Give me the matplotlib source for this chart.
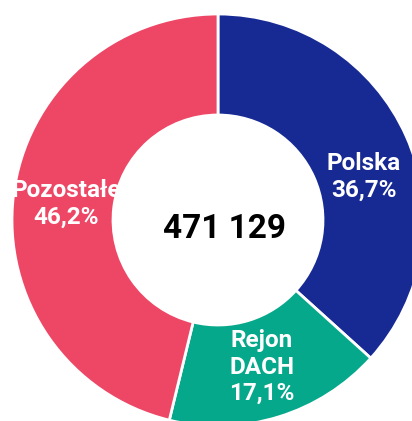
import matplotlib.pyplot as plt

labels = ["Polska", "Rejon\nDACH", "Pozostałe"]
shares = [36.7, 17.1, 46.2]
total = "471 129"
colors = ["#172A94", "#06A88C", "#EE4766"]

W, H = 412, 421
fig = plt.figure(figsize=(W / 100, H / 100), dpi=100)
ax = fig.add_axes([0, 0, 1, 1])

cx, cy = 218, H - 220
R = 206
ax.pie(shares, colors=colors, startangle=90, counterclock=False,
       center=(cx, cy), radius=R, frame=True,
       wedgeprops=dict(width=R - 105, edgecolor="white", linewidth=2))
ax.set_xlim(0, W)
ax.set_ylim(0, H)
ax.set_aspect("equal")
ax.axis("off")

font = ["Roboto", "DejaVu Sans"]
# label anchor points in pixel space (x, y from top)
label_pos = [(364, 177), (262, 367), (66, 204)]
for lab, val, (x, y) in zip(labels, shares, label_pos):
    txt = f"{lab}\n{val:.1f}%".replace(".", ",")
    ax.text(x, H - y, txt, ha="center", va="center", color="white",
            fontsize=17.5, fontweight="bold", family=font, linespacing=1.2)

ax.text(225, H - 229, total, ha="center", va="center", color="black",
        fontsize=24, fontweight="bold", family=font)

fig.savefig("out.png", dpi=100)
